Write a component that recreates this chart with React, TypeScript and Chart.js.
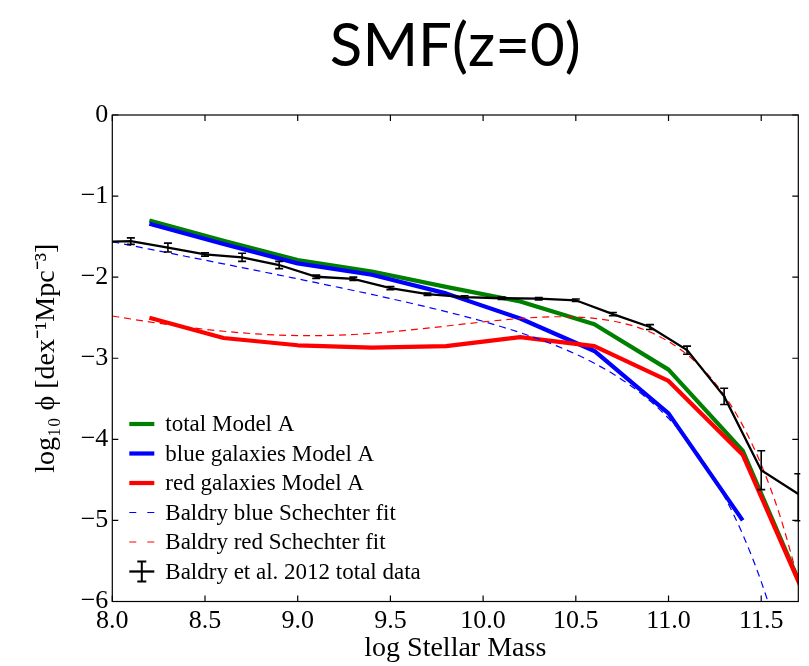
import React, { useEffect, useRef } from "react";
import { Chart, registerables } from "chart.js";

Chart.register(...registerables);

// ---------- data ----------
const titleText = "SMF(z=0)";
const xAxisTitle = "log Stellar Mass";
const yAxisTitle = "log\u2081\u2080 \u03d5 [dex\u207b\u00b9Mpc\u207b\u00b3]";

const xTickValues = [8.0, 8.5, 9.0, 9.5, 10.0, 10.5, 11.0, 11.5];
const yTickValues = [0, -1, -2, -3, -4, -5, -6];

const modelMass = [8.2, 8.6, 9.0, 9.4, 9.8, 10.2, 10.6, 11.0, 11.4, 11.8];
const totalModelA = [-1.3, -1.55, -1.79, -1.93, -2.12, -2.3, -2.58, -3.14, -4.14, -6.26];
const redModelA = [-2.5, -2.75, -2.84, -2.87, -2.85, -2.74, -2.85, -3.28, -4.19, -6.27];
const blueMass = [8.2, 8.6, 9.0, 9.4, 9.8, 10.2, 10.6, 11.0, 11.4];
const blueModelA = [-1.34, -1.59, -1.83, -1.97, -2.2, -2.51, -2.91, -3.68, -5.0];

const fitMass = [
  8.0, 8.1, 8.2, 8.3, 8.4, 8.5, 8.6, 8.7, 8.8, 8.9, 9.0, 9.1, 9.2, 9.3, 9.4, 9.5, 9.6, 9.7, 9.8,
  9.9, 10.0, 10.1, 10.2, 10.3, 10.4, 10.5, 10.6, 10.7, 10.8, 10.9, 11.0, 11.1, 11.2, 11.3, 11.4,
  11.5, 11.6, 11.7,
];
const blueSchechter = [
  -1.563, -1.609, -1.654, -1.699, -1.745, -1.79, -1.836, -1.882, -1.928, -1.974, -2.021, -2.068,
  -2.116, -2.164, -2.213, -2.264, -2.316, -2.369, -2.425, -2.483, -2.545, -2.612, -2.684, -2.763,
  -2.851, -2.949, -3.062, -3.192, -3.345, -3.525, -3.74, -4.0, -4.314, -4.699, -5.171, -5.755,
  -6.477, -7.3,
];
const redSchechter = [
  -2.479, -2.516, -2.552, -2.585, -2.616, -2.643, -2.667, -2.687, -2.703, -2.714, -2.72, -2.721,
  -2.716, -2.707, -2.693, -2.674, -2.653, -2.629, -2.603, -2.577, -2.552, -2.529, -2.509, -2.495,
  -2.488, -2.491, -2.508, -2.541, -2.595, -2.677, -2.794, -2.954, -3.17, -3.455, -3.828, -4.312,
  -4.935, -5.733,
];

const dataMass = [
  7.9, 8.1, 8.3, 8.5, 8.7, 8.9, 9.1, 9.3, 9.5, 9.7, 9.9, 10.1, 10.3, 10.5, 10.7, 10.9, 11.1, 11.3,
  11.5, 11.7,
];
const dataPhi = [
  -1.57, -1.555, -1.635, -1.72, -1.755, -1.85, -1.995, -2.02, -2.135, -2.21, -2.245, -2.26, -2.265,
  -2.285, -2.455, -2.615, -2.9, -3.47, -4.38, -4.675,
];
const dataErrUp = [
  0.04, 0.04, 0.055, 0.02, 0.05, 0.045, 0.02, 0.02, 0.02, 0.015, 0.015, 0.015, 0.015, 0.015, 0.02,
  0.03, 0.05, 0.1, 0.24, 0.25,
];
const dataErrDown = [
  0.04, 0.04, 0.055, 0.02, 0.05, 0.045, 0.02, 0.02, 0.02, 0.015, 0.015, 0.015, 0.015, 0.015, 0.02,
  0.03, 0.05, 0.1, 0.24, 0.33,
];

const seriesLabels = [
  "total Model A",
  "blue galaxies Model A",
  "red galaxies Model A",
  "Baldry blue Schechter fit",
  "Baldry red Schechter fit",
  "Baldry et al. 2012 total data",
];

const serif = "'Liberation Serif', 'Times New Roman', serif";

const toPts = (xs: number[], ys: number[]) => xs.map((x, i) => ({ x, y: ys[i] }));

// ---------- plugins ----------
const frameTicksPlugin = {
  id: "frameTicks",
  afterDatasetsDraw(chart: any) {
    const { ctx, chartArea } = chart;
    const { left, right, top, bottom } = chartArea;
    const xs = chart.scales.x;
    const ys = chart.scales.y;
    const L = 6;
    ctx.save();
    ctx.strokeStyle = "#000";
    ctx.lineWidth = 1.2;
    ctx.setLineDash([]);
    ctx.strokeRect(left, top, right - left, bottom - top);
    ctx.beginPath();
    xs.ticks.forEach((t: any) => {
      const px = xs.getPixelForValue(t.value);
      ctx.moveTo(px, bottom);
      ctx.lineTo(px, bottom - L);
      ctx.moveTo(px, top);
      ctx.lineTo(px, top + L);
    });
    ys.ticks.forEach((t: any) => {
      const py = ys.getPixelForValue(t.value);
      ctx.moveTo(left, py);
      ctx.lineTo(left + L, py);
      ctx.moveTo(right, py);
      ctx.lineTo(right - L, py);
    });
    ctx.stroke();
    ctx.restore();
  },
};

const errorBarPlugin = {
  id: "errorBars",
  afterDatasetsDraw(chart: any) {
    const { ctx, chartArea } = chart;
    const xs = chart.scales.x;
    const ys = chart.scales.y;
    ctx.save();
    ctx.beginPath();
    ctx.rect(chartArea.left - 1, chartArea.top, chartArea.right - chartArea.left + 3, chartArea.bottom - chartArea.top);
    ctx.clip();
    ctx.strokeStyle = "#000";
    ctx.lineWidth = 1.6;
    ctx.setLineDash([]);
    ctx.beginPath();
    dataMass.forEach((m, i) => {
      const px = xs.getPixelForValue(m);
      const yTop = ys.getPixelForValue(dataPhi[i] + dataErrUp[i]);
      const yBot = ys.getPixelForValue(dataPhi[i] - dataErrDown[i]);
      ctx.moveTo(px, yTop);
      ctx.lineTo(px, yBot);
      ctx.moveTo(px - 4, yTop);
      ctx.lineTo(px + 4, yTop);
      ctx.moveTo(px - 4, yBot);
      ctx.lineTo(px + 4, yBot);
    });
    ctx.stroke();
    ctx.restore();
  },
};

const cornerLegendPlugin = {
  id: "cornerLegend",
  afterDraw(chart: any) {
    const { ctx, chartArea } = chart;
    const x0 = chartArea.left + 17;
    const x1 = chartArea.left + 42;
    const tx = chartArea.left + 53;
    let yRow = chartArea.bottom - 177.5;
    ctx.save();
    ctx.font = `23px ${serif}`;
    ctx.textBaseline = "middle";
    ctx.textAlign = "left";
    chart.data.datasets.forEach((ds: any) => {
      ctx.strokeStyle = ds.borderColor;
      ctx.lineWidth = ds.borderWidth;
      ctx.lineCap = "butt";
      if (ds.isErrorData) {
        ctx.setLineDash([]);
        ctx.beginPath();
        ctx.moveTo(x0, yRow);
        ctx.lineTo(x1, yRow);
        ctx.stroke();
        ctx.lineWidth = 2;
        const xm = (x0 + x1) / 2;
        ctx.beginPath();
        ctx.moveTo(xm, yRow - 10);
        ctx.lineTo(xm, yRow + 10);
        ctx.moveTo(xm - 4.5, yRow - 10);
        ctx.lineTo(xm + 4.5, yRow - 10);
        ctx.moveTo(xm - 4.5, yRow + 10);
        ctx.lineTo(xm + 4.5, yRow + 10);
        ctx.stroke();
      } else {
        ctx.setLineDash(ds.borderDash && ds.borderDash.length ? [7, 11] : []);
        ctx.beginPath();
        ctx.moveTo(x0, yRow);
        ctx.lineTo(x1, yRow);
        ctx.stroke();
      }
      ctx.setLineDash([]);
      ctx.fillStyle = "#000";
      ctx.fillText(ds.label, tx, yRow + 1);
      yRow += 29.5;
    });
    ctx.restore();
  },
};

export default function App() {
  const canvasRef = useRef<HTMLCanvasElement | null>(null);

  useEffect(() => {
    if (!canvasRef.current) return;
    const lineBase = { pointRadius: 0, pointHoverRadius: 0, fill: false, tension: 0 };
    const chart = new Chart(canvasRef.current, {
      type: "line",
      data: {
        datasets: [
          {
            ...lineBase,
            label: seriesLabels[0],
            data: toPts(modelMass, totalModelA),
            borderColor: "#008000",
            borderWidth: 4.2,
            borderJoinStyle: "round",
            order: 5,
          },
          {
            ...lineBase,
            label: seriesLabels[1],
            data: toPts(blueMass, blueModelA),
            borderColor: "#0000ff",
            borderWidth: 4.2,
            borderJoinStyle: "round",
            order: 4,
          },
          {
            ...lineBase,
            label: seriesLabels[2],
            data: toPts(modelMass, redModelA),
            borderColor: "#ff0000",
            borderWidth: 4.2,
            borderJoinStyle: "round",
            order: 3,
          },
          {
            ...lineBase,
            label: seriesLabels[3],
            data: toPts(fitMass, blueSchechter),
            borderColor: "#0000ff",
            borderWidth: 1.2,
            borderDash: [7, 5],
            cubicInterpolationMode: "monotone",
            order: 2,
          },
          {
            ...lineBase,
            label: seriesLabels[4],
            data: toPts(fitMass, redSchechter),
            borderColor: "#ff0000",
            borderWidth: 1.2,
            borderDash: [7, 5],
            cubicInterpolationMode: "monotone",
            order: 1,
          },
          {
            ...lineBase,
            label: seriesLabels[5],
            data: toPts(dataMass, dataPhi),
            borderColor: "#000000",
            borderWidth: 2.3,
            isErrorData: true,
            order: 0,
          } as any,
        ],
      },
      options: {
        animation: false,
        responsive: true,
        maintainAspectRatio: false,
        devicePixelRatio: 1,
        layout: { padding: { left: 0, right: 10.7, top: 0, bottom: 0 } },
        plugins: {
          legend: { display: false },
          tooltip: { enabled: false },
          title: {
            display: true,
            text: titleText,
            fullSize: false,
            color: "#000",
            font: { family: "Lato, 'Open Sans', sans-serif", size: 60, weight: "normal", lineHeight: 1.2 },
            padding: { top: 11, bottom: 32 },
          },
        },
        scales: {
          x: {
            type: "linear",
            min: 8.0,
            max: 11.7,
            afterFit: (s: any) => {
              s.height = 64.5;
            },
            afterBuildTicks: (s: any) => {
              s.ticks = xTickValues.map((v) => ({ value: v }));
            },
            ticks: {
              includeBounds: false,
              stepSize: 0.5,
              color: "#000",
              padding: 4.5,
              maxRotation: 0,
              autoSkip: false,
              font: { family: serif, size: 26 },
              callback: (v: any) => Number(v).toFixed(1),
            },
            grid: { display: false, drawTicks: false },
            border: { display: false },
            title: {
              display: true,
              text: xAxisTitle,
              color: "#000",
              font: { family: serif, size: 28 },
              padding: { top: 0, bottom: 0.7 },
            },
          },
          y: {
            type: "linear",
            min: -6,
            max: 0,
            afterFit: (s: any) => {
              s.width = 112.3;
            },
            afterBuildTicks: (s: any) => {
              s.ticks = yTickValues.map((v) => ({ value: v }));
            },
            ticks: {
              stepSize: 1,
              color: "#000",
              padding: 4,
              autoSkip: false,
              font: { family: serif, size: 26 },
              callback: (v: any) => (Number(v) === 0 ? "0" : "\u2212" + Math.abs(Number(v))),
            },
            grid: { display: false, drawTicks: false },
            border: { display: false },
            title: {
              display: true,
              text: yAxisTitle,
              color: "#000",
              font: { family: serif, size: 28 },
              padding: { top: 30.2, bottom: 0 },
            },
          },
        },
      },
      plugins: [frameTicksPlugin, errorBarPlugin, cornerLegendPlugin],
    } as any);
    return () => chart.destroy();
  }, []);

  return (
    <div style={{ position: "fixed", left: 0, top: 0, width: "809px", height: "666px", background: "#fff" }}>
      <canvas ref={canvasRef} />
    </div>
  );
}
